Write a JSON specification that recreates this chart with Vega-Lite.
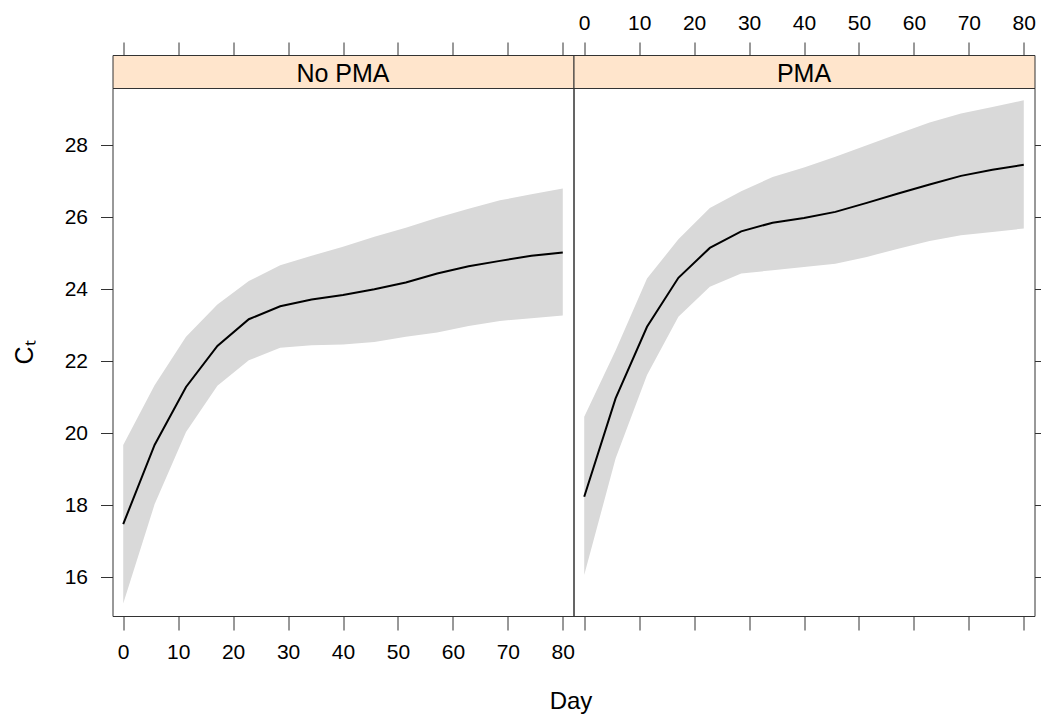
{
  "$schema": "https://vega.github.io/schema/vega-lite/v6.json",
  "padding": {"left": 11.5, "top": 11, "right": 0, "bottom": 0},
  "background": "white",
  "bounds": "flush",
  "spacing": 0,
  "columns": 2,
  "config": {
    "font": "Liberation Sans",
    "view": {"stroke": "#333333", "strokeWidth": 1},
    "axis": {
      "domain": false,
      "grid": false,
      "labelFont": "Liberation Sans",
      "labelFontSize": 21,
      "labelColor": "#000000",
      "tickColor": "#333333",
      "tickWidth": 1,
      "titleFont": "Liberation Sans",
      "titleFontWeight": "normal",
      "titleColor": "#000000"
    }
  },
  "datasets": {
    "ct": [
      {"group": "No PMA", "day": 0, "fit": 17.48, "lo": 15.28, "hi": 19.68},
      {"group": "No PMA", "day": 5.71, "fit": 19.68, "lo": 18.03, "hi": 21.34},
      {"group": "No PMA", "day": 11.43, "fit": 21.29, "lo": 20.04, "hi": 22.68},
      {"group": "No PMA", "day": 17.14, "fit": 22.43, "lo": 21.32, "hi": 23.58},
      {"group": "No PMA", "day": 22.86, "fit": 23.17, "lo": 22.03, "hi": 24.23},
      {"group": "No PMA", "day": 28.57, "fit": 23.53, "lo": 22.38, "hi": 24.67},
      {"group": "No PMA", "day": 34.29, "fit": 23.72, "lo": 22.45, "hi": 24.93},
      {"group": "No PMA", "day": 40, "fit": 23.84, "lo": 22.47, "hi": 25.18},
      {"group": "No PMA", "day": 45.71, "fit": 24.0, "lo": 22.54, "hi": 25.46},
      {"group": "No PMA", "day": 51.43, "fit": 24.19, "lo": 22.68, "hi": 25.71},
      {"group": "No PMA", "day": 57.14, "fit": 24.44, "lo": 22.8, "hi": 25.99},
      {"group": "No PMA", "day": 62.86, "fit": 24.64, "lo": 22.98, "hi": 26.24},
      {"group": "No PMA", "day": 68.57, "fit": 24.79, "lo": 23.12, "hi": 26.47},
      {"group": "No PMA", "day": 74.29, "fit": 24.93, "lo": 23.2, "hi": 26.64},
      {"group": "No PMA", "day": 80, "fit": 25.02, "lo": 23.27, "hi": 26.8},
      {"group": "PMA", "day": 0, "fit": 18.24, "lo": 16.07, "hi": 20.46},
      {"group": "PMA", "day": 5.71, "fit": 20.97, "lo": 19.3, "hi": 22.3},
      {"group": "PMA", "day": 11.43, "fit": 22.96, "lo": 21.62, "hi": 24.3},
      {"group": "PMA", "day": 17.14, "fit": 24.32, "lo": 23.24, "hi": 25.39},
      {"group": "PMA", "day": 22.86, "fit": 25.15, "lo": 24.07, "hi": 26.26},
      {"group": "PMA", "day": 28.57, "fit": 25.61, "lo": 24.44, "hi": 26.72},
      {"group": "PMA", "day": 34.29, "fit": 25.85, "lo": 24.53, "hi": 27.12},
      {"group": "PMA", "day": 40, "fit": 25.98, "lo": 24.62, "hi": 27.38},
      {"group": "PMA", "day": 45.71, "fit": 26.15, "lo": 24.71, "hi": 27.68},
      {"group": "PMA", "day": 51.43, "fit": 26.4, "lo": 24.9, "hi": 28.0},
      {"group": "PMA", "day": 57.14, "fit": 26.66, "lo": 25.13, "hi": 28.32},
      {"group": "PMA", "day": 62.86, "fit": 26.91, "lo": 25.34, "hi": 28.63},
      {"group": "PMA", "day": 68.57, "fit": 27.15, "lo": 25.5, "hi": 28.88},
      {"group": "PMA", "day": 74.29, "fit": 27.32, "lo": 25.59, "hi": 29.06},
      {"group": "PMA", "day": 80, "fit": 27.46, "lo": 25.69, "hi": 29.25}
    ]
  },
  "concat": [
    {
      "width": 461,
      "height": 33,
      "view": {"fill": "#ffe5cc", "stroke": "#333333"},
      "data": {"values": [{"label": "No PMA"}]},
      "mark": {"type": "text", "fontSize": 25, "font": "Liberation Sans", "color": "#000000", "dy": 2},
      "encoding": {
        "x": {"datum": 40, "type": "quantitative",
          "scale": {"domain": [-1.95, 81.95], "nice": false, "zero": false},
          "axis": {"orient": "top", "values": [0, 10, 20, 30, 40, 50, 60, 70, 80], "labels": false, "tickSize": 13, "title": null}},
        "text": {"field": "label"}
      }
    },
    {
      "width": 461,
      "height": 33,
      "view": {"fill": "#ffe5cc", "stroke": "#333333"},
      "data": {"values": [{"label": "PMA"}]},
      "mark": {"type": "text", "fontSize": 25, "font": "Liberation Sans", "color": "#000000", "dy": 2},
      "encoding": {
        "x": {"datum": 40, "type": "quantitative",
          "scale": {"domain": [-1.95, 81.95], "nice": false, "zero": false},
          "axis": {"orient": "top", "values": [0, 10, 20, 30, 40, 50, 60, 70, 80], "labelPadding": 9, "tickSize": 13, "title": null}},
        "text": {"field": "label"}
      }
    },
    {
      "width": 461,
      "height": 528,
      "data": {"name": "ct"},
      "transform": [{"filter": "datum.group === 'No PMA'"}],
      "encoding": {
        "x": {"field": "day", "type": "quantitative",
          "scale": {"domain": [-1.95, 81.95], "nice": false, "zero": false},
          "axis": {"orient": "bottom", "values": [0, 10, 20, 30, 40, 50, 60, 70, 80], "tickSize": 14, "labelPadding": 11,
            "title": "Day", "titleFontSize": 24, "titleX": 458, "titleY": 92, "titleBaseline": "alphabetic", "titleAlign": "center"}}
      },
      "layer": [
        {
          "mark": {"type": "area", "color": "#d9d9d9", "opacity": 1},
          "encoding": {
            "y": {"field": "lo", "type": "quantitative",
              "scale": {"domain": [14.93, 29.59], "nice": false, "zero": false},
              "axis": {"orient": "left", "values": [16, 18, 20, 22, 24, 26, 28], "tickSize": 12, "labelPadding": 13,
                "title": "Cₜ", "titleFontSize": 25, "titleAngle": -90, "titleX": -80, "titleY": 264, "titleBaseline": "alphabetic", "titleAlign": "center"}},
            "y2": {"field": "hi"}
          }
        },
        {
          "mark": {"type": "line", "color": "#000000", "strokeWidth": 2},
          "encoding": {
            "y": {"field": "fit", "type": "quantitative",
              "scale": {"domain": [14.93, 29.59], "nice": false, "zero": false},
              "axis": {"orient": "left", "values": [16, 18, 20, 22, 24, 26, 28], "tickSize": 12, "labelPadding": 13,
                "title": "Cₜ", "titleFontSize": 25, "titleAngle": -90, "titleX": -80, "titleY": 264, "titleBaseline": "alphabetic", "titleAlign": "center"}}
          }
        }
      ]
    },
    {
      "width": 461,
      "height": 528,
      "data": {"name": "ct"},
      "transform": [{"filter": "datum.group === 'PMA'"}],
      "encoding": {
        "x": {"field": "day", "type": "quantitative",
          "scale": {"domain": [-1.95, 81.95], "nice": false, "zero": false},
          "axis": {"orient": "bottom", "values": [0, 10, 20, 30, 40, 50, 60, 70, 80], "tickSize": 14, "labels": false, "title": null}}
      },
      "layer": [
        {
          "mark": {"type": "area", "color": "#d9d9d9", "opacity": 1},
          "encoding": {
            "y": {"field": "lo", "type": "quantitative",
              "scale": {"domain": [14.93, 29.59], "nice": false, "zero": false},
              "axis": {"orient": "right", "values": [16, 18, 20, 22, 24, 26, 28], "tickSize": 12, "labels": false, "title": null}},
            "y2": {"field": "hi"}
          }
        },
        {
          "mark": {"type": "line", "color": "#000000", "strokeWidth": 2},
          "encoding": {
            "y": {"field": "fit", "type": "quantitative",
              "scale": {"domain": [14.93, 29.59], "nice": false, "zero": false},
              "axis": {"orient": "right", "values": [16, 18, 20, 22, 24, 26, 28], "tickSize": 12, "labels": false, "title": null}}
          }
        }
      ]
    }
  ]
}
